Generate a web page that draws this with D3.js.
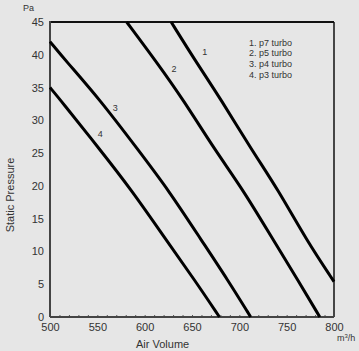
<!DOCTYPE html>
<html>
<head>
<meta charset="utf-8">
<script src="https://cdn.jsdelivr.net/npm/d3@7"></script>
<style>
  body { margin: 0; background: #e6e6e6; }
  svg { display: block; font-family: "Liberation Sans", Arial, sans-serif; }
</style>
</head>
<body>
<div id="chart"></div>
<script>
// Curve points: [air volume m3/h, static pressure Pa]
const curveNames = ['1', '2', '3', '4'];
const legendLabels = ['1. p7 turbo', '2. p5 turbo', '3. p4 turbo', '4. p3 turbo'];
const curve1 = [[628, 45], [653, 39.2], [681, 33.1], [713, 25.5], [741, 19.4], [771, 11.7], [800, 5.4]];
const curve2 = [[581, 45], [611, 39.2], [641, 33.1], [674, 25.5], [704, 19.4], [736, 11.7], [762, 5.6], [785, 0]];
const curve3 = [[500, 42], [516, 39.2], [553, 33.1], [593, 25.5], [625, 19.4], [660, 11.7], [688, 5.6], [712, 0]];
const curve4 = [[500, 35], [511, 33.1], [553, 25.5], [586, 19.4], [623, 11.7], [653, 5.6], [679, 0]];
// where the small number labels sit next to each curve
const curveLabelPos = [[663.5, 40.4], [631, 37.8], [569, 31.9], [553, 28]];

const xTicks = [500, 550, 600, 650, 700, 750, 800];
const yTicks = [0, 5, 10, 15, 20, 25, 30, 35, 40, 45];

const W = 359, H = 351;
const margin = { top: 22, right: 25, bottom: 34, left: 50 };
const width = W - margin.left - margin.right,
      height = H - margin.top - margin.bottom;

const svg = d3.select('#chart').append('svg')
    .attr('width', W)
    .attr('height', H);

const g = svg.append('g')
    .attr('transform', `translate(${margin.left},${margin.top})`);

const x = d3.scaleLinear().domain([500, 800]).range([0, width]);
const y = d3.scaleLinear().domain([0, 45]).range([height, 0]);

// minor ticks on the bottom (pointing inward)
g.append('g')
    .attr('transform', `translate(0,${height})`)
    .call(d3.axisBottom(x).tickValues(d3.range(510, 800, 10)).tickSize(-2).tickFormat(''))
    .call(a => a.select('.domain').remove())
    .selectAll('line').attr('stroke', '#555');

// X axis labels
g.append('g')
    .attr('transform', `translate(0,${height})`)
    .call(d3.axisBottom(x).tickValues(xTicks).tickSize(0).tickPadding(6))
    .call(a => a.select('.domain').remove())
    .selectAll('text')
    .attr('fill', '#333')
    .style('font-size', '11px');

// Y axis labels
g.append('g')
    .call(d3.axisLeft(y).tickValues(yTicks).tickSize(0).tickPadding(6))
    .call(a => a.select('.domain').remove())
    .selectAll('text')
    .attr('fill', '#333')
    .style('font-size', '11px');

// frame
g.append('line').attr('x1', 0).attr('x2', width).attr('y1', 0).attr('y2', 0)
    .attr('stroke', '#111').attr('stroke-width', 2);
g.append('line').attr('x1', width).attr('x2', width).attr('y1', 0).attr('y2', height)
    .attr('stroke', '#111').attr('stroke-width', 1.5);
g.append('line').attr('x1', 0).attr('x2', 0).attr('y1', -1).attr('y2', height)
    .attr('stroke', '#444').attr('stroke-width', 2);
g.append('line').attr('x1', 0).attr('x2', width).attr('y1', height).attr('y2', height)
    .attr('stroke', '#444').attr('stroke-width', 2);

// curves (smoothed through the read points)
const line = d3.line()
    .x(d => x(d[0]))
    .y(d => y(d[1]))
    .curve(d3.curveBasis);

[curve1, curve2, curve3, curve4].forEach(c => {
    g.append('path')
        .datum(c)
        .attr('fill', 'none')
        .attr('stroke', '#000')
        .attr('stroke-width', 3)
        .attr('d', line);
});

// curve numbers
g.selectAll('.curve-label')
    .data(curveNames)
    .enter().append('text')
    .attr('class', 'curve-label')
    .attr('x', (d, i) => x(curveLabelPos[i][0]))
    .attr('y', (d, i) => y(curveLabelPos[i][1]))
    .attr('text-anchor', 'middle')
    .attr('dy', '.35em')
    .attr('fill', '#333')
    .style('font-size', '9px')
    .text(d => d);

// legend
g.selectAll('.legend')
    .data(legendLabels)
    .enter().append('text')
    .attr('class', 'legend')
    .attr('x', 199)
    .attr('y', (d, i) => 20.5 + i * 10.7)
    .attr('dy', '.35em')
    .attr('fill', '#333')
    .style('font-size', '9px')
    .text(d => d);

// axis titles
svg.append('text')
    .attr('x', 23)
    .attr('y', 11)
    .attr('fill', '#333')
    .style('font-size', '9px')
    .text('Pa');

svg.append('text')
    .attr('transform', 'translate(14,195) rotate(-90)')
    .attr('text-anchor', 'middle')
    .attr('fill', '#333')
    .style('font-size', '11px')
    .text('Static Pressure');

svg.append('text')
    .attr('x', 136)
    .attr('y', 348)
    .attr('fill', '#333')
    .style('font-size', '11px')
    .text('Air Volume');

const unit = svg.append('text')
    .attr('x', 337)
    .attr('y', 341)
    .attr('fill', '#333')
    .style('font-size', '9px');
unit.append('tspan').text('m');
unit.append('tspan').attr('dy', -3).style('font-size', '6px').text('3');
unit.append('tspan').attr('dy', 3).text('/h');
</script>
</body>
</html>
